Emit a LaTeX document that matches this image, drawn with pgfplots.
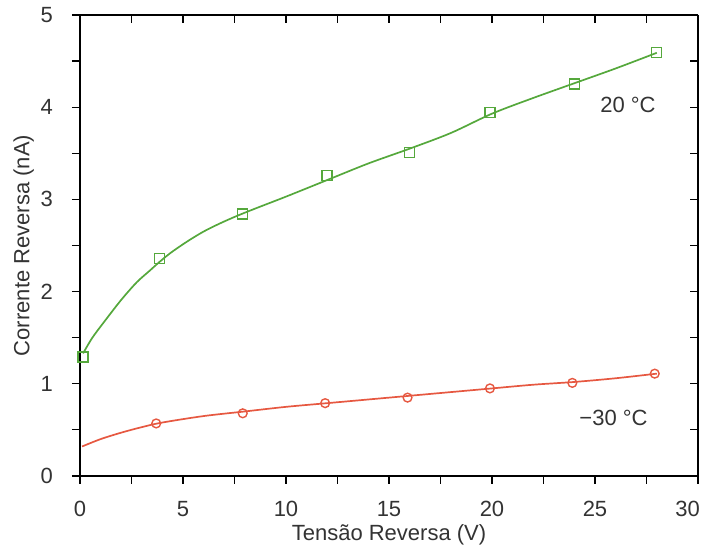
\documentclass[border=0pt]{standalone}
\usepackage{pgfplots}
\pgfplotsset{compat=1.18}
\usepackage{fontspec}
\setmainfont{Liberation Sans}
\definecolor{cgreen}{RGB}{85,168,60}
\definecolor{cred}{RGB}{230,88,65}
\begin{document}
\begin{tikzpicture}
\pgfplotsset{
  common/.style={
    scale only axis, width=309pt, height=230.5pt,
    xmin=0, xmax=30, ymin=0, ymax=5,
    xtick={0,5,...,30}, ytick={0,1,...,5},
    minor xtick={2.5,7.5,...,27.5}, minor ytick={0.5,1.5,...,4.5},
    major tick length=4pt, minor tick length=4pt,
    every tick/.style={black, line width=0.6pt},
    axis line style={black, line width=0.8pt},
    /pgf/number format/assume math mode=true,
    tick label style={font=\fontsize{11}{12}\selectfont, text=black!80},
  }
}
\begin{axis}[common, name=main,
  axis x line*=bottom, axis y line*=left, tick align=outside,
  xticklabels={0,5,10,15,20,25,{}},
  xticklabel style={yshift=-5pt},
  yticklabel style={xshift=-6pt},
  xlabel={Tensão Reversa (V)}, ylabel={Corrente Reversa (nA)},
  label style={font=\fontsize{11}{12}\selectfont, text=black!80},
  xlabel style={yshift=3pt},
  ylabel style={yshift=-3.5pt},
  clip=false]
% 20 C fitted curve
\addplot[cgreen, line width=0.85pt, smooth] coordinates {
(0.15,1.33)(0.6,1.50)(1.2,1.68)(2.0,1.91)(2.75,2.10)(3.4,2.23)(3.85,2.32)(4.4,2.42)(5.18,2.54)(5.99,2.65)(6.80,2.74)(7.61,2.82)(8.5,2.90)(10,3.03)(12,3.21)(14,3.39)(16,3.55)(18,3.72)(20,3.93)(22,4.10)(24,4.26)(26,4.42)(28,4.59)};
\addplot[cgreen, only marks, mark=square, mark size=2.5pt, mark options={line width=0.7pt}] coordinates {
(0.15,1.29)(3.85,2.36)(7.9,2.84)(12.0,3.26)(16.0,3.51)(19.9,3.94)(24.0,4.25)(28.0,4.59)};
% -30 C fitted curve
\addplot[cred, line width=0.85pt, smooth] coordinates {
(0.1,0.32)(1,0.40)(2,0.47)(3,0.53)(4,0.58)(6,0.65)(8,0.70)(10,0.75)(12,0.79)(14,0.83)(16,0.87)(18,0.91)(20,0.95)(22,0.99)(24,1.02)(26,1.06)(28,1.11)};
\addplot[cred, only marks, mark=o, mark size=2.2pt, mark options={line width=0.7pt}] coordinates {
(3.7,0.57)(7.9,0.68)(11.9,0.79)(15.9,0.85)(19.9,0.95)(23.9,1.01)(27.9,1.11)};
\node[font=\fontsize{11}{12}\selectfont, text=black!80] at (axis cs:26.6,4.02) {20 °C};
\node[font=\fontsize{11}{12}\selectfont, text=black!80] at (axis cs:25.9,0.63) {−30 °C};
\node[font=\fontsize{11}{12}\selectfont, text=black!80, anchor=north, yshift=-9pt] at (axis cs:29.5,0) {30};
\end{axis}
\begin{axis}[common,
  axis x line*=top, axis y line*=right, tick align=inside,
  xticklabels={}, yticklabels={}]
\end{axis}
\pgfresetboundingbox
\path ([shift={(-40pt,-35pt)}]main.south west) rectangle ([shift={(2.5pt,7.5pt)}]main.north east);
\end{tikzpicture}
\end{document}
